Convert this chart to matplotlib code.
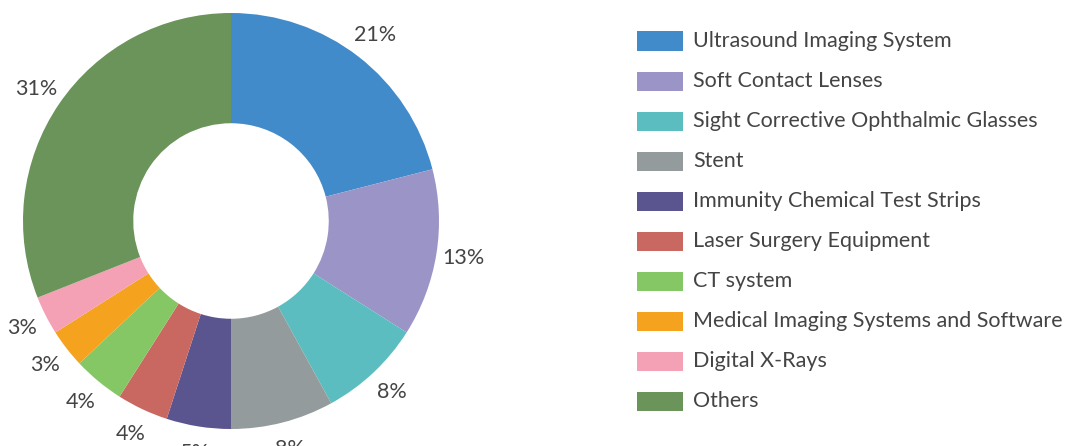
import matplotlib
matplotlib.use("Agg")
import matplotlib.pyplot as plt
from matplotlib.patches import Rectangle

# data
labels = ["Ultrasound Imaging System", "Soft Contact Lenses",
          "Sight Corrective Ophthalmic Glasses", "Stent",
          "Immunity Chemical Test Strips", "Laser Surgery Equipment",
          "CT system", "Medical Imaging Systems and Software",
          "Digital X-Rays", "Others"]
shares = [21, 13, 8, 8, 5, 4, 4, 3, 3, 31]
colors = ["#428BCA", "#9B94C7", "#5BBDBF", "#949B9D", "#5B558F",
          "#C96861", "#86C765", "#F5A31E", "#F4A0B5", "#6A9459"]

plt.rcParams['font.family'] = ['Lato', 'DejaVu Sans']
txt_color = "#444444"
fs = 15.5

W, H = 1065, 446
fig = plt.figure(figsize=(W / 100, H / 100), dpi=100)
ax = fig.add_axes([0, 0, 1, 1])

# pie centre at (231, 221) px, radius 208 px
cx, cy, R = 231, 221, 208
wedges, texts, autotexts = ax.pie(
    shares, colors=colors, startangle=90, counterclock=False, radius=1,
    wedgeprops=dict(width=0.53, linewidth=0),
    autopct='%d%%', pctdistance=1.13,
    textprops=dict(fontsize=fs, color=txt_color))
ax.set_xlim(-cx / R, (W - cx) / R)
ax.set_ylim((cy - H) / R, cy / R)
ax.set_aspect('equal')
ax.axis('off')

# legend
for i, (lab, col) in enumerate(zip(labels, colors)):
    yc = 41 + 40 * i
    fig.add_artist(Rectangle((637 / W, 1 - (yc + 9.5) / H), 46 / W, 19 / H,
                             transform=fig.transFigure, color=col, lw=0))
    fig.text(693 / W, 1 - yc / H, lab, fontsize=fs, color=txt_color,
             va='center', ha='left')

fig.savefig("out.png", dpi=100)
